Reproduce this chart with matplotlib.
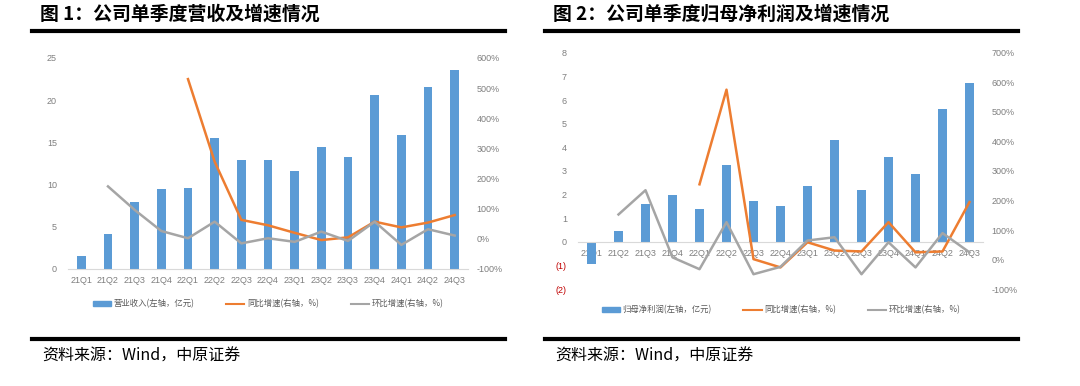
import numpy as np
import matplotlib
matplotlib.use("Agg")
import matplotlib.pyplot as plt
from matplotlib.lines import Line2D
from matplotlib.patches import Patch

plt.rcParams['font.family'] = ['Noto Sans CJK SC', 'DejaVu Sans']

# dados
quarters = ["21Q1", "21Q2", "21Q3", "21Q4", "22Q1", "22Q2", "22Q3", "22Q4",
            "23Q1", "23Q2", "23Q3", "23Q4", "24Q1", "24Q2", "24Q3"]

revenue = [1.5, 4.15, 7.9, 9.45, 9.63, 15.56, 12.88, 12.95,
           11.57, 14.42, 13.23, 20.6, 15.88, 21.6, 23.6]
rev_yoy = [np.nan, np.nan, np.nan, np.nan, 530, 256, 63, 45,
           20, -4, 5, 57, 38, 54, 79]
rev_qoq = [np.nan, 174, 96, 26, 2, 57, -15, 2,
           -10, 24, -7, 57, -20, 32, 11]

profit = [-0.92, 0.48, 1.62, 2.0, 1.40, 3.27, 1.72, 1.50,
          2.36, 4.33, 2.19, 3.60, 2.86, 5.60, 6.70]
prof_yoy = [np.nan, np.nan, np.nan, np.nan, 255, 575, 2, -26,
            59, 31, 28, 127, 25, 28, 195]
prof_qoq = [np.nan, 153, 235, 8, -32, 127, -49, -24,
            65, 76, -49, 59, -26, 90, 25]

W, H = 1080, 386
BLUE = '#5B9BD5'
ORANGE = '#ED7D31'
GRAY = '#A5A5A5'
TICK = '#7f7f7f'
TICKFONT = ['Liberation Sans', 'DejaVu Sans']

fig = plt.figure(figsize=(W / 100, H / 100), dpi=100)


def px_axes(x0, y0, x1, y1):
    # caixa em pixels (origem no topo) -> eixos da figura
    return fig.add_axes([x0 / W, (H - y1) / H, (x1 - x0) / W, (y1 - y0) / H])


def hline(x0, x1, y, lw=3):
    fig.add_artist(Line2D([x0 / W, x1 / W], [(H - y) / H, (H - y) / H],
                          color='black', lw=lw, transform=fig.transFigure))


def painel(box, bars, yoy, qoq, ylim, yticks, ylabels, y2lim, y2ticks,
           leg_labels, leg_pos):
    ax = px_axes(*box)
    x = np.arange(len(quarters))
    ax.bar(x, bars, width=0.32, color=BLUE, zorder=2)
    ax.set_xlim(-0.5, len(quarters) - 0.5)
    ax.set_ylim(*ylim)
    ax.set_yticks(yticks)
    ax.set_yticklabels(ylabels)
    for s in ['top', 'right', 'left']:
        ax.spines[s].set_visible(False)
    ax.spines['bottom'].set_position(('data', 0))
    ax.spines['bottom'].set_color('#d9d9d9')
    ax.spines['bottom'].set_linewidth(0.8)
    ax.set_xticks(x)
    ax.set_xticklabels(quarters)
    ax.tick_params(axis='x', length=0, pad=5, labelsize=6.5, labelcolor=TICK)
    ax.tick_params(axis='y', length=0, pad=8, labelsize=6.5, labelcolor=TICK)
    for lab in ax.get_xticklabels() + ax.get_yticklabels():
        lab.set_family(TICKFONT)

    ax2 = ax.twinx()
    ax2.plot(x, yoy, color=ORANGE, lw=1.8, zorder=3)
    ax2.plot(x, qoq, color=GRAY, lw=1.8, zorder=3)
    ax2.set_ylim(*y2lim)
    ax2.set_yticks(y2ticks)
    ax2.set_yticklabels([f"{v}%" for v in y2ticks])
    ax2.tick_params(axis='y', length=0, pad=6, labelsize=6.5, labelcolor=TICK)
    for lab in ax2.get_yticklabels():
        lab.set_family(TICKFONT)
    for s in ax2.spines.values():
        s.set_visible(False)

    handles = [Patch(color=BLUE), Line2D([], [], color=ORANGE, lw=1.5),
               Line2D([], [], color=GRAY, lw=1.5)]
    fig.legend(handles, leg_labels, loc='center',
               bbox_to_anchor=(leg_pos[0] / W, (H - leg_pos[1]) / H),
               ncol=3, frameon=False, fontsize=6, handlelength=2.2,
               handleheight=0.6, columnspacing=3.8, handletextpad=0.3,
               labelcolor='#595959')
    return ax, ax2


# grafico 1
painel((68, 58, 468, 269), revenue, rev_yoy, rev_qoq,
       (0, 25), [0, 5, 10, 15, 20, 25], ['0', '5', '10', '15', '20', '25'],
       (-100, 600), [-100, 0, 100, 200, 300, 400, 500, 600],
       ["营业收入(左轴，亿元)", "同比增速(右轴，%)", "环比增速(右轴，%)"],
       (268, 304))

# grafico 2
ax, ax2 = painel((578, 52.7, 983, 289.3), profit, prof_yoy, prof_qoq,
                 (-2, 8), list(range(-2, 9)),
                 ['(2)', '(1)', '0', '1', '2', '3', '4', '5', '6', '7', '8'],
                 (-100, 700), [-100, 0, 100, 200, 300, 400, 500, 600, 700],
                 ["归母净利润(左轴，亿元)", "同比增速(右轴，%)", "环比增速(右轴，%)"],
                 (781, 310))
for lab in ax.get_yticklabels()[:2]:
    lab.set_color('#C00000')

# titulos, linhas e fonte
for x_t, x0, x1, txt in [(40, 32, 505, "图 1：公司单季度营收及增速情况"),
                         (553, 545, 1018, "图 2：公司单季度归母净利润及增速情况")]:
    fig.text(x_t / W, (H - 14) / H, txt, fontsize=13.6, fontweight='bold',
             va='center', ha='left', color='black')
    hline(x0, x1, 31)
    hline(x0, x1, 339)

fig.text(42 / W, (H - 356) / H, "资料来源：Wind，中原证券", fontsize=11.5,
         va='center', ha='left', color='black')
fig.text(555 / W, (H - 356) / H, "资料来源：Wind，中原证券", fontsize=11.5,
         va='center', ha='left', color='black')

fig.savefig('out.png', dpi=100)
